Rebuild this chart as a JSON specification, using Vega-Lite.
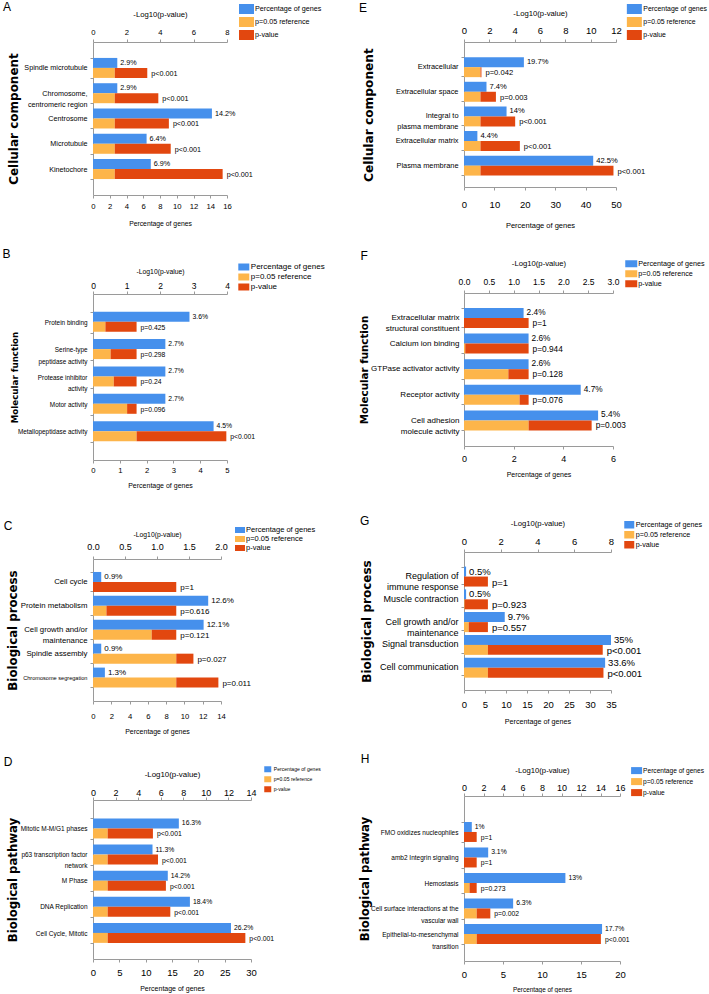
{
"$schema": "https://vega.github.io/schema/vega-lite/v6.json",
"padding": {"left": 2, "top": 0, "right": 0, "bottom": 0},
"config": {
  "view": {"stroke": null},
  "axis": {"grid": false, "domainColor": "#9a9a9a", "tickColor": "#9a9a9a", "labelColor": "#000000", "titleColor": "#000000", "labelOverlap": false, "labelFlush": false, "titleFontWeight": "normal", "labelFont": "Liberation Sans", "titleFont": "Liberation Sans"},
  "legend": {"symbolStrokeWidth": 0, "padding": 0, "rowPadding": 0, "labelColor": "#000000", "labelFont": "Liberation Sans"},
  "text": {"font": "Liberation Sans"},
  "title": {"anchor": "start", "frame": "bounds", "fontSize": 12, "fontWeight": "normal", "font": "Liberation Sans", "offset": 0, "baseline": "top", "color": "#000000"}
},
"spacing": 371,
"bounds": "flush",
"resolve": {"scale": {"color": "independent"}, "legend": {"color": "independent"}},
"hconcat": [
{"concat": [
{
 "width": 134, "height": 153,
 "title": {"text": "A", "dx": -4, "dy": 16},
 "data": {"values": [
  {"c":"Spindle microtubule","s":"a","k":"Percentage of genes","v0":0,"v1":2.9,"t":"2.9%"},
  {"c":"Spindle microtubule","s":"b","k":"p=0.05 reference","v0":0,"v1":1.301},
  {"c":"Spindle microtubule","s":"b","k":"p-value","v0":1.301,"v1":3.24,"t":"p<0.001"},
  {"c":"Chromosome,|centromeric region","s":"a","k":"Percentage of genes","v0":0,"v1":2.9,"t":"2.9%"},
  {"c":"Chromosome,|centromeric region","s":"b","k":"p=0.05 reference","v0":0,"v1":1.301},
  {"c":"Chromosome,|centromeric region","s":"b","k":"p-value","v0":1.301,"v1":3.9,"t":"p<0.001"},
  {"c":"Centrosome","s":"a","k":"Percentage of genes","v0":0,"v1":14.2,"t":"14.2%"},
  {"c":"Centrosome","s":"b","k":"p=0.05 reference","v0":0,"v1":1.301},
  {"c":"Centrosome","s":"b","k":"p-value","v0":1.301,"v1":4.53,"t":"p<0.001"},
  {"c":"Microtubule","s":"a","k":"Percentage of genes","v0":0,"v1":6.4,"t":"6.4%"},
  {"c":"Microtubule","s":"b","k":"p=0.05 reference","v0":0,"v1":1.301},
  {"c":"Microtubule","s":"b","k":"p-value","v0":1.301,"v1":4.64,"t":"p<0.001"},
  {"c":"Kinetochore","s":"a","k":"Percentage of genes","v0":0,"v1":6.9,"t":"6.9%"},
  {"c":"Kinetochore","s":"b","k":"p=0.05 reference","v0":0,"v1":1.301},
  {"c":"Kinetochore","s":"b","k":"p-value","v0":1.301,"v1":7.74,"t":"p<0.001"}
 ]},
 "encoding": {
  "y": {"field":"c","type":"nominal","sort":null,
        "scale":{"domain":["Spindle microtubule","Chromosome,|centromeric region","Centrosome","Microtubule","Kinetochore"],"paddingInner":0.21,"paddingOuter":0.63},
        "axis":{"title":"Cellular component","titleX":-80,"titleBaseline":"middle","titleFont":"DejaVu Sans","titleFontWeight":"bold","titleFontSize":12,
                "labelFontSize":7.2,"labelExpr":"isValid(datum.value) ? split(datum.value,'|') : ''","labelLineHeight":11,"tickBand":"extent","tickSize":3,"labelPadding":3}},
  "yOffset": {"field":"s","type":"nominal","scale":{"domain":["a","b"],"paddingInner":0,"paddingOuter":0}}
 },
 "layer": [
  {"transform":[{"filter":"datum.s=='a'"}],"mark":{"type":"bar"},
   "encoding":{"x":{"field":"v0","type":"quantitative","scale":{"domain":[0,16],"nice":false},
     "axis":{"orient":"bottom","title":"Percentage of genes","values":[0,2,4,6,8,10,12,14,16],"tickSize":3,"labelPadding":4.5,"titlePadding":10.5,"labelFontSize":7.7,"titleFontSize":6.8}},
     "x2":{"field":"v1"},
     "color":{"field":"k","type":"nominal","scale":{"domain":["Percentage of genes","p=0.05 reference","p-value"],"range":["#4690ec","#fdb54a","#e2470f"]},
       "legend":{"title":null,"orient":"none","legendX":146,"legendY":-40.5,"symbolType":"M-1,-0.667H1V0.667H-1Z","symbolSize":225,"labelFontSize":7.2,"labelOffset":1}}}},
  {"transform":[{"filter":"datum.s=='a'"}],"mark":{"type":"text","align":"left","baseline":"middle","dx":3,"fontSize":7.2},
   "encoding":{"x":{"field":"v1","type":"quantitative","scale":{"domain":[0,16],"nice":false},"axis":null},"text":{"field":"t"}}},
  {"transform":[{"filter":"datum.s=='b'"}],"mark":{"type":"bar"},
   "encoding":{"x":{"field":"v0","type":"quantitative","scale":{"domain":[0,8],"nice":false},
     "axis":{"orient":"top","title":"-Log10(p-value)","values":[0,2,4,6,8],"tickSize":3,"labelPadding":2.5,"titlePadding":10.5,"labelFontSize":7.7,"titleFontSize":7.7}},
     "x2":{"field":"v1"},
     "color":{"field":"k","type":"nominal","scale":{"domain":["Percentage of genes","p=0.05 reference","p-value"],"range":["#4690ec","#fdb54a","#e2470f"]},
       "legend":{"title":null,"orient":"none","legendX":146,"legendY":-40.5,"symbolType":"M-1,-0.667H1V0.667H-1Z","symbolSize":225,"labelFontSize":7.2,"labelOffset":1}}}},
  {"transform":[{"filter":"datum.s=='b' && isValid(datum.t)"}],"mark":{"type":"text","align":"left","baseline":"middle","dx":4,"dy":1,"fontSize":7.2},
   "encoding":{"x":{"field":"v1","type":"quantitative","scale":{"domain":[0,8],"nice":false},"axis":null},"text":{"field":"t"}}}
 ],
 "resolve": {"scale": {"x": "independent"}}
},
{
 "width": 134, "height": 166,
 "title": {"text": "B", "dx": -8, "dy": 4},
 "data": {"values": [
  {"c":"Protein binding","s":"a","k":"Percentage of genes","v0":0,"v1":3.6,"t":"3.6%"},
  {"c":"Protein binding","s":"b","k":"p=0.05 reference","v0":0,"v1":0.37},
  {"c":"Protein binding","s":"b","k":"p-value","v0":0.37,"v1":1.301,"t":"p=0.425"},
  {"c":"Serine-type|peptidase activity","s":"a","k":"Percentage of genes","v0":0,"v1":2.7,"t":"2.7%"},
  {"c":"Serine-type|peptidase activity","s":"b","k":"p=0.05 reference","v0":0,"v1":0.526},
  {"c":"Serine-type|peptidase activity","s":"b","k":"p-value","v0":0.526,"v1":1.301,"t":"p=0.298"},
  {"c":"Protease inhibitor|activity","s":"a","k":"Percentage of genes","v0":0,"v1":2.7,"t":"2.7%"},
  {"c":"Protease inhibitor|activity","s":"b","k":"p=0.05 reference","v0":0,"v1":0.62},
  {"c":"Protease inhibitor|activity","s":"b","k":"p-value","v0":0.62,"v1":1.301,"t":"p=0.24"},
  {"c":"Motor activity","s":"a","k":"Percentage of genes","v0":0,"v1":2.7,"t":"2.7%"},
  {"c":"Motor activity","s":"b","k":"p=0.05 reference","v0":0,"v1":1.018},
  {"c":"Motor activity","s":"b","k":"p-value","v0":1.018,"v1":1.301,"t":"p=0.096"},
  {"c":"Metallopeptidase activity","s":"a","k":"Percentage of genes","v0":0,"v1":4.5,"t":"4.5%"},
  {"c":"Metallopeptidase activity","s":"b","k":"p=0.05 reference","v0":0,"v1":1.301},
  {"c":"Metallopeptidase activity","s":"b","k":"p-value","v0":1.301,"v1":3.98,"t":"p<0.001"}
 ]},
 "encoding": {
  "y": {"field":"c","type":"nominal","sort":null,
        "scale":{"domain":["Protein binding","Serine-type|peptidase activity","Protease inhibitor|activity","Motor activity","Metallopeptidase activity"],"paddingInner":0.23,"paddingOuter":0.65},
        "axis":{"title":"Molecular function","titleX":-78.5,"titleBaseline":"middle","titleFont":"DejaVu Sans","titleFontWeight":"bold","titleFontSize":8.7,
                "labelFontSize":6.4,"labelExpr":"isValid(datum.value) ? split(datum.value,'|') : ''","labelLineHeight":11.5,"tickBand":"extent","tickSize":3,"labelPadding":3}},
  "yOffset": {"field":"s","type":"nominal","scale":{"domain":["a","b"],"paddingInner":0,"paddingOuter":0}}
 },
 "layer": [
  {"transform":[{"filter":"datum.s=='a'"}],"mark":{"type":"bar"},
   "encoding":{"x":{"field":"v0","type":"quantitative","scale":{"domain":[0,5],"nice":false},
     "axis":{"orient":"bottom","title":"Percentage of genes","values":[0,1,2,3,4,5],"tickSize":3,"labelPadding":3.5,"titlePadding":7.5,"labelFontSize":7.7,"titleFontSize":7}},
     "x2":{"field":"v1"},
     "color":{"field":"k","type":"nominal","scale":{"domain":["Percentage of genes","p=0.05 reference","p-value"],"range":["#4690ec","#fdb54a","#e2470f"]},
       "legend":{"title":null,"orient":"none","legendX":144.8,"legendY":-33,"symbolType":"M-0.965,-0.614H0.965V0.614H-0.965Z","symbolSize":130,"labelFontSize":8,"labelOffset":1}}}},
  {"transform":[{"filter":"datum.s=='a'"}],"mark":{"type":"text","align":"left","baseline":"middle","dx":3,"fontSize":6.8},
   "encoding":{"x":{"field":"v1","type":"quantitative","scale":{"domain":[0,5],"nice":false},"axis":null},"text":{"field":"t"}}},
  {"transform":[{"filter":"datum.s=='b'"}],"mark":{"type":"bar"},
   "encoding":{"x":{"field":"v0","type":"quantitative","scale":{"domain":[0,4],"nice":false},
     "axis":{"orient":"top","title":"-Log10(p-value)","values":[0,1,2,3,4],"tickSize":3,"labelPadding":0.5,"titlePadding":7.3,"labelFontSize":8.5,"titleFontSize":6.8}},
     "x2":{"field":"v1"},
     "color":{"field":"k","type":"nominal","scale":{"domain":["Percentage of genes","p=0.05 reference","p-value"],"range":["#4690ec","#fdb54a","#e2470f"]},
       "legend":{"title":null,"orient":"none","legendX":144.8,"legendY":-33,"symbolType":"M-0.965,-0.614H0.965V0.614H-0.965Z","symbolSize":130,"labelFontSize":8,"labelOffset":1}}}},
  {"transform":[{"filter":"datum.s=='b' && isValid(datum.t)"}],"mark":{"type":"text","align":"left","baseline":"middle","dx":4,"dy":1,"fontSize":6.8},
   "encoding":{"x":{"field":"v1","type":"quantitative","scale":{"domain":[0,4],"nice":false},"axis":null},"text":{"field":"t"}}}
 ],
 "resolve": {"scale": {"x": "independent"}}
},
{
 "width": 128, "height": 142,
 "title": {"text": "C", "dx": -3.2, "dy": 12},
 "data": {"values": [
  {"c":"Cell cycle","s":"a","k":"Percentage of genes","v0":0,"v1":0.9,"t":"0.9%"},
  {"c":"Cell cycle","s":"b","k":"p-value","v0":0,"v1":1.301,"t":"p=1"},
  {"c":"Protein metabolism","s":"a","k":"Percentage of genes","v0":0,"v1":12.6,"t":"12.6%"},
  {"c":"Protein metabolism","s":"b","k":"p=0.05 reference","v0":0,"v1":0.21},
  {"c":"Protein metabolism","s":"b","k":"p-value","v0":0.21,"v1":1.301,"t":"p=0.616"},
  {"c":"Cell growth and/or|maintenance","s":"a","k":"Percentage of genes","v0":0,"v1":12.1,"t":"12.1%"},
  {"c":"Cell growth and/or|maintenance","s":"b","k":"p=0.05 reference","v0":0,"v1":0.917},
  {"c":"Cell growth and/or|maintenance","s":"b","k":"p-value","v0":0.917,"v1":1.301,"t":"p=0.121"},
  {"c":"Spindle assembly","s":"a","k":"Percentage of genes","v0":0,"v1":0.9,"t":"0.9%"},
  {"c":"Spindle assembly","s":"b","k":"p=0.05 reference","v0":0,"v1":1.301},
  {"c":"Spindle assembly","s":"b","k":"p-value","v0":1.301,"v1":1.569,"t":"p=0.027"},
  {"c":"Chromosome segregation","s":"a","k":"Percentage of genes","v0":0,"v1":1.3,"t":"1.3%"},
  {"c":"Chromosome segregation","s":"b","k":"p=0.05 reference","v0":0,"v1":1.301},
  {"c":"Chromosome segregation","s":"b","k":"p-value","v0":1.301,"v1":1.959,"t":"p=0.011"}
 ]},
 "encoding": {
  "y": {"field":"c","type":"nominal","sort":null,
        "scale":{"domain":["Cell cycle","Protein metabolism","Cell growth and/or|maintenance","Spindle assembly","Chromosome segregation"],"paddingInner":0.19,"paddingOuter":0.565,"align":0.48},
        "axis":{"title":"Biological process","titleX":-81,"titleBaseline":"middle","titleFont":"DejaVu Sans","titleFontWeight":"bold","titleFontSize":11.8,
                "labelFontSize":{"condition":{"test":"datum.value=='Chromosome segregation'","value":5.6},"value":7.8},"labelExpr":"isValid(datum.value) ? split(datum.value,'|') : ''","labelLineHeight":11.5,"tickBand":"extent","tickSize":3,"labelPadding":3}},
  "yOffset": {"field":"s","type":"nominal","scale":{"domain":["a","b"],"paddingInner":0,"paddingOuter":0}}
 },
 "layer": [
  {"transform":[{"filter":"datum.s=='a'"}],"mark":{"type":"bar"},
   "encoding":{"x":{"field":"v0","type":"quantitative","scale":{"domain":[0,14],"nice":false},
     "axis":{"orient":"bottom","title":"Percentage of genes","values":[0,2,4,6,8,10,12,14],"tickSize":3,"labelPadding":8.5,"titlePadding":7.5,"labelFontSize":7.7,"titleFontSize":7}},
     "x2":{"field":"v1"},
     "color":{"field":"k","type":"nominal","scale":{"domain":["Percentage of genes","p=0.05 reference","p-value"],"range":["#4690ec","#fdb54a","#e2470f"]},
       "legend":{"title":null,"orient":"none","legendX":142,"legendY":-34,"symbolType":"M-1,-0.6H1V0.6H-1Z","symbolSize":100,"labelFontSize":7.5,"labelOffset":1}}}},
  {"transform":[{"filter":"datum.s=='a'"}],"mark":{"type":"text","align":"left","baseline":"middle","dx":3,"fontSize":8},
   "encoding":{"x":{"field":"v1","type":"quantitative","scale":{"domain":[0,14],"nice":false},"axis":null},"text":{"field":"t"}}},
  {"transform":[{"filter":"datum.s=='b'"}],"mark":{"type":"bar"},
   "encoding":{"x":{"field":"v0","type":"quantitative","scale":{"domain":[0,2],"nice":false},
     "axis":{"orient":"top","title":"-Log10(p-value)","values":[0,0.5,1,1.5,2],"tickSize":3,"labelPadding":4.5,"titlePadding":5,"labelFontSize":9,"titleFontSize":6.8}},
     "x2":{"field":"v1"},
     "color":{"field":"k","type":"nominal","scale":{"domain":["Percentage of genes","p=0.05 reference","p-value"],"range":["#4690ec","#fdb54a","#e2470f"]},
       "legend":{"title":null,"orient":"none","legendX":142,"legendY":-34,"symbolType":"M-1,-0.6H1V0.6H-1Z","symbolSize":100,"labelFontSize":7.5,"labelOffset":1}}}},
  {"transform":[{"filter":"datum.s=='b' && isValid(datum.t)"}],"mark":{"type":"text","align":"left","baseline":"middle","dx":4,"dy":1,"fontSize":8},
   "encoding":{"x":{"field":"v1","type":"quantitative","scale":{"domain":[0,2],"nice":false},"axis":null},"text":{"field":"t"}}}
 ],
 "resolve": {"scale": {"x": "independent"}}
},
{
 "width": 158, "height": 159,
 "title": {"text": "D", "dx": -3.8, "dy": 10},
 "data": {"values": [
  {"c":"Mitotic M-M/G1 phases","s":"a","k":"Percentage of genes","v0":0,"v1":16.3,"t":"16.3%"},
  {"c":"Mitotic M-M/G1 phases","s":"b","k":"p=0.05 reference","v0":0,"v1":1.301},
  {"c":"Mitotic M-M/G1 phases","s":"b","k":"p-value","v0":1.301,"v1":5.31,"t":"p<0.001"},
  {"c":"p63 transcription factor|network","s":"a","k":"Percentage of genes","v0":0,"v1":11.3,"t":"11.3%"},
  {"c":"p63 transcription factor|network","s":"b","k":"p=0.05 reference","v0":0,"v1":1.301},
  {"c":"p63 transcription factor|network","s":"b","k":"p-value","v0":1.301,"v1":5.76,"t":"p<0.001"},
  {"c":"M Phase","s":"a","k":"Percentage of genes","v0":0,"v1":14.2,"t":"14.2%"},
  {"c":"M Phase","s":"b","k":"p=0.05 reference","v0":0,"v1":1.301},
  {"c":"M Phase","s":"b","k":"p-value","v0":1.301,"v1":6.46,"t":"p<0.001"},
  {"c":"DNA Replication","s":"a","k":"Percentage of genes","v0":0,"v1":18.4,"t":"18.4%"},
  {"c":"DNA Replication","s":"b","k":"p=0.05 reference","v0":0,"v1":1.301},
  {"c":"DNA Replication","s":"b","k":"p-value","v0":1.301,"v1":6.85,"t":"p<0.001"},
  {"c":"Cell Cycle, Mitotic","s":"a","k":"Percentage of genes","v0":0,"v1":26.2,"t":"26.2%"},
  {"c":"Cell Cycle, Mitotic","s":"b","k":"p=0.05 reference","v0":0,"v1":1.301},
  {"c":"Cell Cycle, Mitotic","s":"b","k":"p-value","v0":1.301,"v1":13.5,"t":"p<0.001"}
 ]},
 "encoding": {
  "y": {"field":"c","type":"nominal","sort":null,
        "scale":{"domain":["Mitotic M-M/G1 phases","p63 transcription factor|network","M Phase","DNA Replication","Cell Cycle, Mitotic"],"paddingInner":0.22,"paddingOuter":0.655,"align":0.54},
        "axis":{"title":"Biological pathway","titleX":-80.5,"titleBaseline":"middle","titleFont":"DejaVu Sans","titleFontWeight":"bold","titleFontSize":11.7,
                "labelFontSize":6.5,"labelExpr":"isValid(datum.value) ? split(datum.value,'|') : ''","labelLineHeight":11,"tickBand":"extent","tickSize":3,"labelPadding":3}},
  "yOffset": {"field":"s","type":"nominal","scale":{"domain":["a","b"],"paddingInner":0,"paddingOuter":0}}
 },
 "layer": [
  {"transform":[{"filter":"datum.s=='a'"}],"mark":{"type":"bar"},
   "encoding":{"x":{"field":"v0","type":"quantitative","scale":{"domain":[0,30],"nice":false},
     "axis":{"orient":"bottom","title":"Percentage of genes","values":[0,5,10,15,20,25,30],"tickSize":3,"labelPadding":5.5,"titlePadding":7,"labelFontSize":9.5,"titleFontSize":7}},
     "x2":{"field":"v1"},
     "color":{"field":"k","type":"nominal","scale":{"domain":["Percentage of genes","p=0.05 reference","p-value"],"range":["#4690ec","#fdb54a","#e2470f"]},
       "legend":{"title":null,"orient":"none","legendX":168.75,"legendY":-36.75,"symbolType":"M-0.609,-0.522H0.609V0.522H-0.609Z","symbolSize":132.25,"labelFontSize":5.1,"labelOffset":0}}}},
  {"transform":[{"filter":"datum.s=='a'"}],"mark":{"type":"text","align":"left","baseline":"middle","dx":3,"fontSize":6.8},
   "encoding":{"x":{"field":"v1","type":"quantitative","scale":{"domain":[0,30],"nice":false},"axis":null},"text":{"field":"t"}}},
  {"transform":[{"filter":"datum.s=='b'"}],"mark":{"type":"bar"},
   "encoding":{"x":{"field":"v0","type":"quantitative","scale":{"domain":[0,14],"nice":false},
     "axis":{"orient":"top","title":"-Log10(p-value)","values":[0,2,4,6,8,10,12,14],"tickSize":3,"labelPadding":0,"titlePadding":10,"labelFontSize":9,"titleFontSize":7.9}},
     "x2":{"field":"v1"},
     "color":{"field":"k","type":"nominal","scale":{"domain":["Percentage of genes","p=0.05 reference","p-value"],"range":["#4690ec","#fdb54a","#e2470f"]},
       "legend":{"title":null,"orient":"none","legendX":168.75,"legendY":-36.75,"symbolType":"M-0.609,-0.522H0.609V0.522H-0.609Z","symbolSize":132.25,"labelFontSize":5.1,"labelOffset":0}}}},
  {"transform":[{"filter":"datum.s=='b' && isValid(datum.t)"}],"mark":{"type":"text","align":"left","baseline":"middle","dx":4,"dy":1,"fontSize":6.8},
   "encoding":{"x":{"field":"v1","type":"quantitative","scale":{"domain":[0,14],"nice":false},"axis":null},"text":{"field":"t"}}}
 ],
 "resolve": {"scale": {"x": "independent"}}
}
], "columns": 1, "bounds": "flush", "spacing": 99,
 "resolve": {"scale": {"color": "independent"}, "legend": {"color": "independent"}}},
{"concat": [
{
 "width": 152, "height": 145,
 "title": {"text": "E", "dx": -3, "dy": 17},
 "data": {"values": [
  {"c":"Extracellular","s":"a","k":"Percentage of genes","v0":0,"v1":19.7,"t":"19.7%"},
  {"c":"Extracellular","s":"b","k":"p=0.05 reference","v0":0,"v1":1.301},
  {"c":"Extracellular","s":"b","k":"p-value","v0":1.301,"v1":1.377,"t":"p=0.042"},
  {"c":"Extracellular space","s":"a","k":"Percentage of genes","v0":0,"v1":7.4,"t":"7.4%"},
  {"c":"Extracellular space","s":"b","k":"p=0.05 reference","v0":0,"v1":1.301},
  {"c":"Extracellular space","s":"b","k":"p-value","v0":1.301,"v1":2.52,"t":"p=0.003"},
  {"c":"Integral to|plasma membrane","s":"a","k":"Percentage of genes","v0":0,"v1":14,"t":"14%"},
  {"c":"Integral to|plasma membrane","s":"b","k":"p=0.05 reference","v0":0,"v1":1.301},
  {"c":"Integral to|plasma membrane","s":"b","k":"p-value","v0":1.301,"v1":4.04,"t":"p<0.001"},
  {"c":"Extracellular matrix","s":"a","k":"Percentage of genes","v0":0,"v1":4.4,"t":"4.4%"},
  {"c":"Extracellular matrix","s":"b","k":"p=0.05 reference","v0":0,"v1":1.301},
  {"c":"Extracellular matrix","s":"b","k":"p-value","v0":1.301,"v1":4.41,"t":"p<0.001"},
  {"c":"Plasma membrane","s":"a","k":"Percentage of genes","v0":0,"v1":42.5,"t":"42.5%"},
  {"c":"Plasma membrane","s":"b","k":"p=0.05 reference","v0":0,"v1":1.301},
  {"c":"Plasma membrane","s":"b","k":"p-value","v0":1.301,"v1":11.8,"t":"p<0.001"}
 ]},
 "encoding": {
  "y": {"field":"c","type":"nominal","sort":null,
        "scale":{"domain":["Extracellular","Extracellular space","Integral to|plasma membrane","Extracellular matrix","Plasma membrane"],"paddingInner":0.23,"paddingOuter":0.56,"align":0.55},
        "axis":{"title":"Cellular component","titleX":-96,"titleBaseline":"middle","titleFont":"DejaVu Sans","titleFontWeight":"bold","titleFontSize":12.2,
                "labelFontSize":7.4,"labelExpr":"isValid(datum.value) ? split(datum.value,'|') : ''","labelLineHeight":11,"tickBand":"extent","tickSize":3,"labelPadding":3}},
  "yOffset": {"field":"s","type":"nominal","scale":{"domain":["a","b"],"paddingInner":0,"paddingOuter":0}}
 },
 "layer": [
  {"transform":[{"filter":"datum.s=='a'"}],"mark":{"type":"bar"},
   "encoding":{"x":{"field":"v0","type":"quantitative","scale":{"domain":[0,50],"nice":false},
     "axis":{"orient":"bottom","title":"Percentage of genes","values":[0,10,20,30,40,50],"tickSize":3,"labelPadding":9.5,"titlePadding":12.5,"labelFontSize":9.5,"titleFontSize":7.5}},
     "x2":{"field":"v1"},
     "color":{"field":"k","type":"nominal","scale":{"domain":["Percentage of genes","p=0.05 reference","p-value"],"range":["#4690ec","#fdb54a","#e2470f"]},
       "legend":{"title":null,"orient":"none","legendX":163.35,"legendY":-40,"symbolType":"M-1.095,-0.73H1.095V0.73H-1.095Z","symbolSize":187.7,"labelFontSize":6.9,"labelOffset":2}}}},
  {"transform":[{"filter":"datum.s=='a'"}],"mark":{"type":"text","align":"left","baseline":"middle","dx":3,"fontSize":7.6},
   "encoding":{"x":{"field":"v1","type":"quantitative","scale":{"domain":[0,50],"nice":false},"axis":null},"text":{"field":"t"}}},
  {"transform":[{"filter":"datum.s=='b'"}],"mark":{"type":"bar"},
   "encoding":{"x":{"field":"v0","type":"quantitative","scale":{"domain":[0,12],"nice":false},
     "axis":{"orient":"top","title":"-Log10(p-value)","values":[0,2,4,6,8,10,12],"tickSize":3,"labelPadding":3.5,"titlePadding":8,"labelFontSize":9.5,"titleFontSize":7.7}},
     "x2":{"field":"v1"},
     "color":{"field":"k","type":"nominal","scale":{"domain":["Percentage of genes","p=0.05 reference","p-value"],"range":["#4690ec","#fdb54a","#e2470f"]},
       "legend":{"title":null,"orient":"none","legendX":163.35,"legendY":-40,"symbolType":"M-1.095,-0.73H1.095V0.73H-1.095Z","symbolSize":187.7,"labelFontSize":6.9,"labelOffset":2}}}},
  {"transform":[{"filter":"datum.s=='b' && isValid(datum.t)"}],"mark":{"type":"text","align":"left","baseline":"middle","dx":4,"dy":1,"fontSize":7.6},
   "encoding":{"x":{"field":"v1","type":"quantitative","scale":{"domain":[0,12],"nice":false},"axis":null},"text":{"field":"t"}}}
 ],
 "resolve": {"scale": {"x": "independent"}}
},
{
 "width": 149, "height": 153,
 "title": {"text": "F", "dx": 1.5, "dy": 9},
 "data": {"values": [
  {"c":"Extracellular matrix|structural constituent","s":"a","k":"Percentage of genes","v0":0,"v1":2.4,"t":"2.4%"},
  {"c":"Extracellular matrix|structural constituent","s":"b","k":"p-value","v0":0,"v1":1.301,"t":"p=1"},
  {"c":"Calcium ion binding","s":"a","k":"Percentage of genes","v0":0,"v1":2.6,"t":"2.6%"},
  {"c":"Calcium ion binding","s":"b","k":"p=0.05 reference","v0":0,"v1":0.025},
  {"c":"Calcium ion binding","s":"b","k":"p-value","v0":0.025,"v1":1.301,"t":"p=0.944"},
  {"c":"GTPase activator activity","s":"a","k":"Percentage of genes","v0":0,"v1":2.6,"t":"2.6%"},
  {"c":"GTPase activator activity","s":"b","k":"p=0.05 reference","v0":0,"v1":0.893},
  {"c":"GTPase activator activity","s":"b","k":"p-value","v0":0.893,"v1":1.301,"t":"p=0.128"},
  {"c":"Receptor activity","s":"a","k":"Percentage of genes","v0":0,"v1":4.7,"t":"4.7%"},
  {"c":"Receptor activity","s":"b","k":"p=0.05 reference","v0":0,"v1":1.119},
  {"c":"Receptor activity","s":"b","k":"p-value","v0":1.119,"v1":1.301,"t":"p=0.076"},
  {"c":"Cell adhesion|molecule activity","s":"a","k":"Percentage of genes","v0":0,"v1":5.4,"t":"5.4%"},
  {"c":"Cell adhesion|molecule activity","s":"b","k":"p=0.05 reference","v0":0,"v1":1.301},
  {"c":"Cell adhesion|molecule activity","s":"b","k":"p-value","v0":1.301,"v1":2.57,"t":"p=0.003"}
 ]},
 "encoding": {
  "y": {"field":"c","type":"nominal","sort":null,
        "scale":{"domain":["Extracellular matrix|structural constituent","Calcium ion binding","GTPase activator activity","Receptor activity","Cell adhesion|molecule activity"],"paddingInner":0.245,"paddingOuter":0.61,"align":0.48},
        "axis":{"title":"Molecular function","titleX":-100,"titleBaseline":"middle","titleFont":"DejaVu Sans","titleFontWeight":"bold","titleFontSize":10.3,
                "labelFontSize":8,"labelExpr":"isValid(datum.value) ? split(datum.value,'|') : ''","labelLineHeight":11.3,"tickBand":"extent","tickSize":3,"labelPadding":2}},
  "yOffset": {"field":"s","type":"nominal","scale":{"domain":["a","b"],"paddingInner":0,"paddingOuter":0}}
 },
 "layer": [
  {"transform":[{"filter":"datum.s=='a'"}],"mark":{"type":"bar"},
   "encoding":{"x":{"field":"v0","type":"quantitative","scale":{"domain":[0,6],"nice":false},
     "axis":{"orient":"bottom","title":"Percentage of genes","values":[0,2,4,6],"tickSize":3,"labelPadding":5.5,"titlePadding":6.5,"labelFontSize":9,"titleFontSize":7}},
     "x2":{"field":"v1"},
     "color":{"field":"k","type":"nominal","scale":{"domain":["Percentage of genes","p=0.05 reference","p-value"],"range":["#4690ec","#fdb54a","#e2470f"]},
       "legend":{"title":null,"orient":"none","legendX":161.75,"legendY":-34.75,"symbolType":"M-1.143,-0.667H1.143V0.667H-1.143Z","symbolSize":110.25,"labelFontSize":7.2,"labelOffset":1.5}}}},
  {"transform":[{"filter":"datum.s=='a'"}],"mark":{"type":"text","align":"left","baseline":"middle","dx":3,"fontSize":8.3},
   "encoding":{"x":{"field":"v1","type":"quantitative","scale":{"domain":[0,6],"nice":false},"axis":null},"text":{"field":"t"}}},
  {"transform":[{"filter":"datum.s=='b'"}],"mark":{"type":"bar"},
   "encoding":{"x":{"field":"v0","type":"quantitative","scale":{"domain":[0,3],"nice":false},
     "axis":{"orient":"top","title":"-Log10(p-value)","values":[0,0.5,1,1.5,2,2.5,3],"tickSize":3,"labelPadding":3.5,"titlePadding":10,"labelFontSize":8.5,"titleFontSize":7.7}},
     "x2":{"field":"v1"},
     "color":{"field":"k","type":"nominal","scale":{"domain":["Percentage of genes","p=0.05 reference","p-value"],"range":["#4690ec","#fdb54a","#e2470f"]},
       "legend":{"title":null,"orient":"none","legendX":161.75,"legendY":-34.75,"symbolType":"M-1.143,-0.667H1.143V0.667H-1.143Z","symbolSize":110.25,"labelFontSize":7.2,"labelOffset":1.5}}}},
  {"transform":[{"filter":"datum.s=='b' && isValid(datum.t)"}],"mark":{"type":"text","align":"left","baseline":"middle","dx":4,"dy":1,"fontSize":8.3},
   "encoding":{"x":{"field":"v1","type":"quantitative","scale":{"domain":[0,3],"nice":false},"axis":null},"text":{"field":"t"}}}
 ],
 "resolve": {"scale": {"x": "independent"}}
},
{
 "width": 147, "height": 138,
 "title": {"text": "G", "dx": 0, "dy": 12.5},
 "data": {"values": [
  {"c":"Regulation of|immune response","s":"a","k":"Percentage of genes","v0":0,"v1":0.5,"t":"0.5%"},
  {"c":"Regulation of|immune response","s":"b","k":"p-value","v0":0,"v1":1.301,"t":"p=1"},
  {"c":"Muscle contraction","s":"a","k":"Percentage of genes","v0":0,"v1":0.5,"t":"0.5%"},
  {"c":"Muscle contraction","s":"b","k":"p=0.05 reference","v0":0,"v1":0.035},
  {"c":"Muscle contraction","s":"b","k":"p-value","v0":0.035,"v1":1.301,"t":"p=0.923"},
  {"c":"Cell growth and/or|maintenance","s":"a","k":"Percentage of genes","v0":0,"v1":9.7,"t":"9.7%"},
  {"c":"Cell growth and/or|maintenance","s":"b","k":"p=0.05 reference","v0":0,"v1":0.254},
  {"c":"Cell growth and/or|maintenance","s":"b","k":"p-value","v0":0.254,"v1":1.301,"t":"p=0.557"},
  {"c":"Signal transduction","s":"a","k":"Percentage of genes","v0":0,"v1":35,"t":"35%"},
  {"c":"Signal transduction","s":"b","k":"p=0.05 reference","v0":0,"v1":1.301},
  {"c":"Signal transduction","s":"b","k":"p-value","v0":1.301,"v1":7.55,"t":"p<0.001"},
  {"c":"Cell communication","s":"a","k":"Percentage of genes","v0":0,"v1":33.6,"t":"33.6%"},
  {"c":"Cell communication","s":"b","k":"p=0.05 reference","v0":0,"v1":1.301},
  {"c":"Cell communication","s":"b","k":"p-value","v0":1.301,"v1":7.59,"t":"p<0.001"}
 ]},
 "encoding": {
  "y": {"field":"c","type":"nominal","sort":null,
        "scale":{"domain":["Regulation of|immune response","Muscle contraction","Cell growth and/or|maintenance","Signal transduction","Cell communication"],"paddingInner":0.22,"paddingOuter":0.64},
        "axis":{"title":"Biological process","titleX":-98,"titleBaseline":"middle","titleFont":"DejaVu Sans","titleFontWeight":"bold","titleFontSize":12,
                "labelFontSize":9,"labelExpr":"isValid(datum.value) ? split(datum.value,'|') : ''","labelLineHeight":11,"tickBand":"extent","tickSize":3,"labelPadding":3}},
  "yOffset": {"field":"s","type":"nominal","scale":{"domain":["a","b"],"paddingInner":0,"paddingOuter":0}}
 },
 "layer": [
  {"transform":[{"filter":"datum.s=='a'"}],"mark":{"type":"bar"},
   "encoding":{"x":{"field":"v0","type":"quantitative","scale":{"domain":[0,35],"nice":false},
     "axis":{"orient":"bottom","title":"Percentage of genes","values":[0,5,10,15,20,25,30,35],"tickSize":3,"labelPadding":6.5,"titlePadding":8.5,"labelFontSize":9.5,"titleFontSize":7.2}},
     "x2":{"field":"v1"},
     "color":{"field":"k","type":"nominal","scale":{"domain":["Percentage of genes","p=0.05 reference","p-value"],"range":["#4690ec","#fdb54a","#e2470f"]},
       "legend":{"title":null,"orient":"none","legendX":159.75,"legendY":-32.75,"symbolType":"M-0.952,-0.714H0.952V0.714H-0.952Z","symbolSize":110.25,"labelFontSize":7.2,"labelOffset":1}}}},
  {"transform":[{"filter":"datum.s=='a'"}],"mark":{"type":"text","align":"left","baseline":"middle","dx":3,"fontSize":9.5},
   "encoding":{"x":{"field":"v1","type":"quantitative","scale":{"domain":[0,35],"nice":false},"axis":null},"text":{"field":"t"}}},
  {"transform":[{"filter":"datum.s=='b'"}],"mark":{"type":"bar"},
   "encoding":{"x":{"field":"v0","type":"quantitative","scale":{"domain":[0,8],"nice":false},
     "axis":{"orient":"top","title":"-Log10(p-value)","values":[0,2,4,6,8],"tickSize":3,"labelPadding":2.2,"titlePadding":9.3,"labelFontSize":9.5,"titleFontSize":7.7}},
     "x2":{"field":"v1"},
     "color":{"field":"k","type":"nominal","scale":{"domain":["Percentage of genes","p=0.05 reference","p-value"],"range":["#4690ec","#fdb54a","#e2470f"]},
       "legend":{"title":null,"orient":"none","legendX":159.75,"legendY":-32.75,"symbolType":"M-0.952,-0.714H0.952V0.714H-0.952Z","symbolSize":110.25,"labelFontSize":7.2,"labelOffset":1}}}},
  {"transform":[{"filter":"datum.s=='b' && isValid(datum.t)"}],"mark":{"type":"text","align":"left","baseline":"middle","dx":4,"dy":1,"fontSize":9.5},
   "encoding":{"x":{"field":"v1","type":"quantitative","scale":{"domain":[0,8],"nice":false},"axis":null},"text":{"field":"t"}}}
 ],
 "resolve": {"scale": {"x": "independent"}}
},
{
 "width": 156, "height": 165,
 "title": {"text": "H", "dx": 1.7, "dy": 5.5},
 "data": {"values": [
  {"c":"FMO oxidizes nucleophiles","s":"a","k":"Percentage of genes","v0":0,"v1":1,"t":"1%"},
  {"c":"FMO oxidizes nucleophiles","s":"b","k":"p-value","v0":0,"v1":1.301,"t":"p=1"},
  {"c":"amb2 Integrin signaling","s":"a","k":"Percentage of genes","v0":0,"v1":3.1,"t":"3.1%"},
  {"c":"amb2 Integrin signaling","s":"b","k":"p-value","v0":0,"v1":1.301,"t":"p=1"},
  {"c":"Hemostasis","s":"a","k":"Percentage of genes","v0":0,"v1":13,"t":"13%"},
  {"c":"Hemostasis","s":"b","k":"p=0.05 reference","v0":0,"v1":0.564},
  {"c":"Hemostasis","s":"b","k":"p-value","v0":0.564,"v1":1.301,"t":"p=0.273"},
  {"c":"Cell surface interactions at the|vascular wall","s":"a","k":"Percentage of genes","v0":0,"v1":6.3,"t":"6.3%"},
  {"c":"Cell surface interactions at the|vascular wall","s":"b","k":"p=0.05 reference","v0":0,"v1":1.301},
  {"c":"Cell surface interactions at the|vascular wall","s":"b","k":"p-value","v0":1.301,"v1":2.7,"t":"p=0.002"},
  {"c":"Epithelial-to-mesenchymal|transition","s":"a","k":"Percentage of genes","v0":0,"v1":17.7,"t":"17.7%"},
  {"c":"Epithelial-to-mesenchymal|transition","s":"b","k":"p=0.05 reference","v0":0,"v1":1.301},
  {"c":"Epithelial-to-mesenchymal|transition","s":"b","k":"p-value","v0":1.301,"v1":14.04,"t":"p<0.001"}
 ]},
 "encoding": {
  "y": {"field":"c","type":"nominal","sort":null,
        "scale":{"domain":["FMO oxidizes nucleophiles","amb2 Integrin signaling","Hemostasis","Cell surface interactions at the|vascular wall","Epithelial-to-mesenchymal|transition"],"paddingInner":0.2,"paddingOuter":0.835,"align":0.61},
        "axis":{"title":"Biological pathway","titleX":-100,"titleBaseline":"middle","titleFont":"DejaVu Sans","titleFontWeight":"bold","titleFontSize":11.7,
                "labelFontSize":6.5,"labelExpr":"isValid(datum.value) ? split(datum.value,'|') : ''","labelLineHeight":12.3,"tickBand":"extent","tickSize":3,"labelPadding":3}},
  "yOffset": {"field":"s","type":"nominal","scale":{"domain":["a","b"],"paddingInner":0,"paddingOuter":0}}
 },
 "layer": [
  {"transform":[{"filter":"datum.s=='a'"}],"mark":{"type":"bar"},
   "encoding":{"x":{"field":"v0","type":"quantitative","scale":{"domain":[0,20],"nice":false},
     "axis":{"orient":"bottom","title":"Percentage of genes","values":[0,5,10,15,20],"tickSize":3,"labelPadding":5.5,"titlePadding":7,"labelFontSize":9.5,"titleFontSize":6.4}},
     "x2":{"field":"v1"},
     "color":{"field":"k","type":"nominal","scale":{"domain":["Percentage of genes","p=0.05 reference","p-value"],"range":["#4690ec","#fdb54a","#e2470f"]},
       "legend":{"title":null,"orient":"none","legendX":166.1,"legendY":-31.9,"symbolType":"M-0.863,-0.549H0.863V0.549H-0.863Z","symbolSize":162.6,"labelFontSize":6.6,"labelOffset":0}}}},
  {"transform":[{"filter":"datum.s=='a'"}],"mark":{"type":"text","align":"left","baseline":"middle","dx":3,"fontSize":6.8},
   "encoding":{"x":{"field":"v1","type":"quantitative","scale":{"domain":[0,20],"nice":false},"axis":null},"text":{"field":"t"}}},
  {"transform":[{"filter":"datum.s=='b'"}],"mark":{"type":"bar"},
   "encoding":{"x":{"field":"v0","type":"quantitative","scale":{"domain":[0,16],"nice":false},
     "axis":{"orient":"top","title":"-Log10(p-value)","values":[0,2,4,6,8,10,12,14,16],"tickSize":3,"labelPadding":0.8,"titlePadding":8.7,"labelFontSize":9,"titleFontSize":7.7}},
     "x2":{"field":"v1"},
     "color":{"field":"k","type":"nominal","scale":{"domain":["Percentage of genes","p=0.05 reference","p-value"],"range":["#4690ec","#fdb54a","#e2470f"]},
       "legend":{"title":null,"orient":"none","legendX":166.1,"legendY":-31.9,"symbolType":"M-0.863,-0.549H0.863V0.549H-0.863Z","symbolSize":162.6,"labelFontSize":6.6,"labelOffset":0}}}},
  {"transform":[{"filter":"datum.s=='b' && isValid(datum.t)"}],"mark":{"type":"text","align":"left","baseline":"middle","dx":4,"dy":1,"fontSize":6.8},
   "encoding":{"x":{"field":"v1","type":"quantitative","scale":{"domain":[0,16],"nice":false},"axis":null},"text":{"field":"t"}}}
 ],
 "resolve": {"scale": {"x": "independent"}}
}
], "columns": 1, "bounds": "flush", "spacing": 106,
 "resolve": {"scale": {"color": "independent"}, "legend": {"color": "independent"}}}
]
}
